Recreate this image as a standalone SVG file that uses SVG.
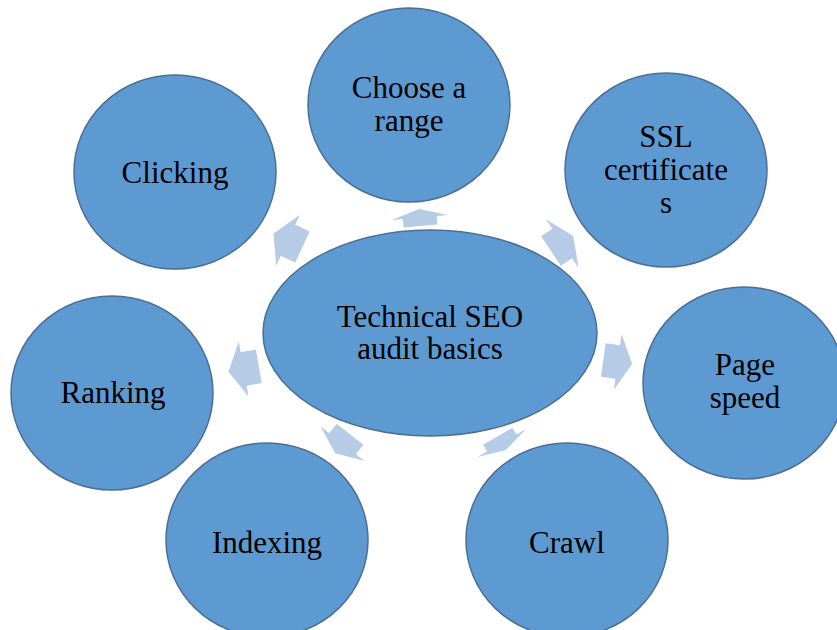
<svg xmlns="http://www.w3.org/2000/svg" xmlns:xlink="http://www.w3.org/1999/xlink" width="837" height="630" viewBox="0 0 837 630">
<defs>
<style>
.node{fill:#5E9AD2;stroke:#4A6F96;stroke-width:1.5}
.lbl{font-family:"Liberation Serif","Times New Roman",serif;font-size:31px;fill:#000;text-anchor:middle}
.arrow{fill:#B6CBE6;stroke:none}
</style>
<polygon id="arr" points="0,-17 14,-17 14,-28 28,0 14,28 14,17 0,17"/>
</defs>
<rect width="837" height="630" fill="#fff"/>
<g id="connectors" class="arrow">
<use xlink:href="#arr" href="#arr" transform="translate(420.5,226) rotate(-95) scale(0.61,1)"/>
<use xlink:href="#arr" href="#arr" transform="translate(302.5,247) rotate(205) scale(1.14,1)"/>
<use xlink:href="#arr" href="#arr" transform="translate(551,251) rotate(-34) scale(0.96,1.04)"/>
<use xlink:href="#arr" href="#arr" transform="translate(603.3,360) rotate(8) scale(1.04,1)"/>
<use xlink:href="#arr" href="#arr" transform="translate(258.8,366.3) rotate(170) scale(1.1,1)"/>
<use xlink:href="#arr" href="#arr" transform="translate(350,434.2) rotate(128) scale(0.86,1)"/>
<use xlink:href="#arr" href="#arr" transform="translate(497.8,436.2) rotate(60) scale(0.57,1)"/>
</g>
<g id="center">
<ellipse class="node" cx="430" cy="333" rx="167" ry="103"/>
<text class="lbl" x="430" y="327">Technical SEO</text>
<text class="lbl" x="430" y="359">audit basics</text>
</g>
<g id="choose-range">
<ellipse class="node" cx="409" cy="105" rx="101" ry="97"/>
<text class="lbl" x="409" y="98">Choose a</text>
<text class="lbl" x="409" y="131">range</text>
</g>
<g id="clicking">
<ellipse class="node" cx="175" cy="172" rx="101" ry="97"/>
<text class="lbl" x="175" y="183">Clicking</text>
</g>
<g id="ssl">
<ellipse class="node" cx="666" cy="170" rx="101" ry="97"/>
<text class="lbl" x="666" y="147">SSL</text>
<text class="lbl" x="666" y="180">certificate</text>
<text class="lbl" x="666" y="213">s</text>
</g>
<g id="page-speed">
<ellipse class="node" cx="744" cy="383" rx="101" ry="96"/>
<text class="lbl" x="745" y="375">Page</text>
<text class="lbl" x="745" y="408">speed</text>
</g>
<g id="ranking">
<ellipse class="node" cx="112" cy="393" rx="101" ry="97"/>
<text class="lbl" x="113" y="403">Ranking</text>
</g>
<g id="indexing">
<ellipse class="node" cx="267" cy="540" rx="101" ry="97"/>
<text class="lbl" x="267" y="553">Indexing</text>
</g>
<g id="crawl">
<ellipse class="node" cx="567" cy="540" rx="101" ry="97"/>
<text class="lbl" x="567" y="553">Crawl</text>
</g>
</svg>
